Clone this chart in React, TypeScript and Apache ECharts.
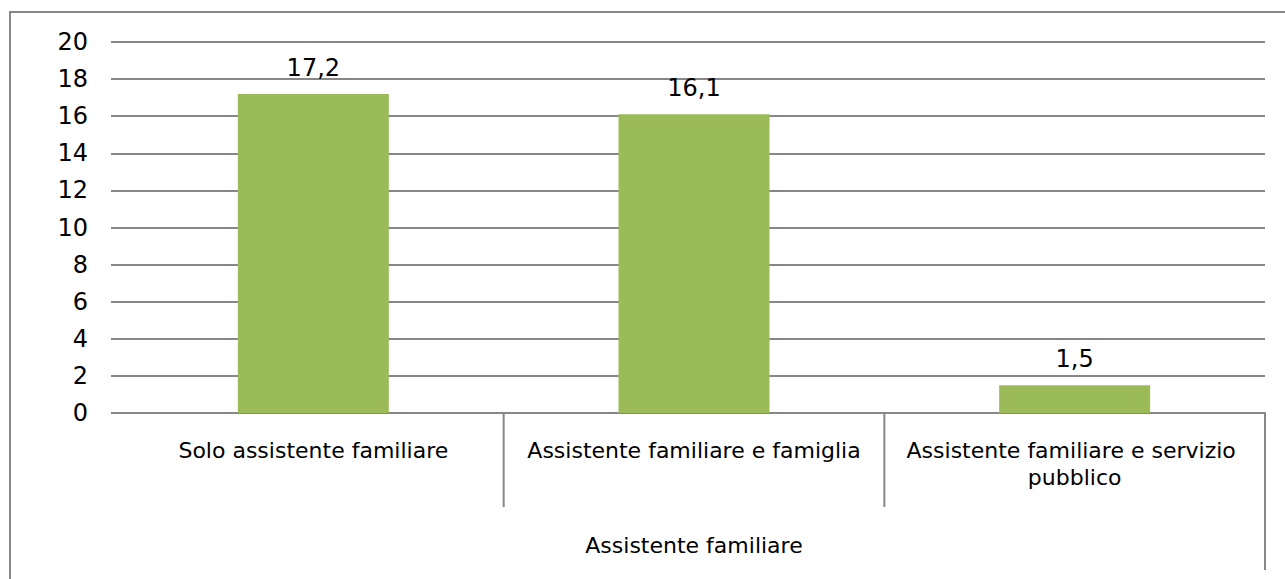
import React, { useEffect, useRef } from "react";
import * as echarts from "echarts";

const categories = [
  "Solo assistente familiare",
  "Assistente familiare e famiglia",
  "Assistente familiare e servizio pubblico",
];
const values = [17.2, 16.1, 1.5];
const groupLabel = "Assistente familiare";
const yMin = 0;
const yMax = 20;
const yStep = 2;

const FONT = "DejaVu Sans";
const GRID_LEFT = 123;
const GRID_RIGHT = 20;
const GRID_TOP = 42;
const GRID_BOTTOM = 166;

export default function App() {
  const ref = useRef<HTMLDivElement>(null);
  useEffect(() => {
    if (!ref.current) return;
    const chart = echarts.init(ref.current, null, { renderer: "svg" });
    const W = 1285;
    const H = 579;
    const plotW = W - GRID_LEFT - GRID_RIGHT;
    const axisY = H - GRID_BOTTOM;
    const catW = plotW / categories.length;
    const sepLines: any[] = [];
    for (let i = 1; i <= categories.length; i++) {
      const x = GRID_LEFT + catW * i;
      sepLines.push({
        type: "line",
        shape: { x1: x, y1: axisY, x2: x, y2: i === categories.length ? 570 : 507 },
        style: { stroke: "#878787", lineWidth: 2 },
      });
    }
    chart.setOption({
      animation: false,
      grid: { left: GRID_LEFT, right: GRID_RIGHT, top: GRID_TOP, bottom: GRID_BOTTOM },
      xAxis: {
        type: "category",
        data: categories,
        axisLine: { show: true, lineStyle: { color: "#878787", width: 2 } },
        axisTick: { show: false },
        axisLabel: {
          interval: 0,
          margin: 24,
          color: "#000",
          fontFamily: FONT,
          fontSize: 22,
          width: 376,
          overflow: "break",
          lineHeight: 27,
        },
      },
      yAxis: {
        type: "value",
        min: yMin,
        max: yMax,
        interval: yStep,
        axisLine: { show: false },
        axisTick: { show: true, length: 12, lineStyle: { color: "#878787", width: 2 } },
        splitLine: { show: true, lineStyle: { color: "#878787", width: 2 } },
        axisLabel: { margin: 35, color: "#000", fontFamily: FONT, fontSize: 24 },
      },
      series: [
        {
          type: "bar",
          data: values,
          barWidth: 151,
          itemStyle: { color: "#9BBB59" },
          label: {
            show: true,
            position: "top",
            distance: 14,
            color: "#000",
            fontFamily: FONT,
            fontSize: 24,
            formatter: (p: any) => String(p.value).replace(".", ","),
          },
        },
      ],
      graphic: [
        {
          type: "rect",
          shape: { x: 10, y: 12, width: 1300, height: 620 },
          style: { fill: "none", stroke: "#878787", lineWidth: 2 },
          silent: true,
        },
        ...sepLines,
        {
          type: "text",
          x: GRID_LEFT + plotW / 2,
          y: 545,
          style: {
            text: groupLabel,
            fill: "#000",
            font: `22px "${FONT}"`,
            textAlign: "center",
            textVerticalAlign: "middle",
          },
        },
      ],
    });
    return () => chart.dispose();
  }, []);
  return <div ref={ref} style={{ width: 1285, height: 579, position: "absolute", left: 0, top: 0 }} />;
}
